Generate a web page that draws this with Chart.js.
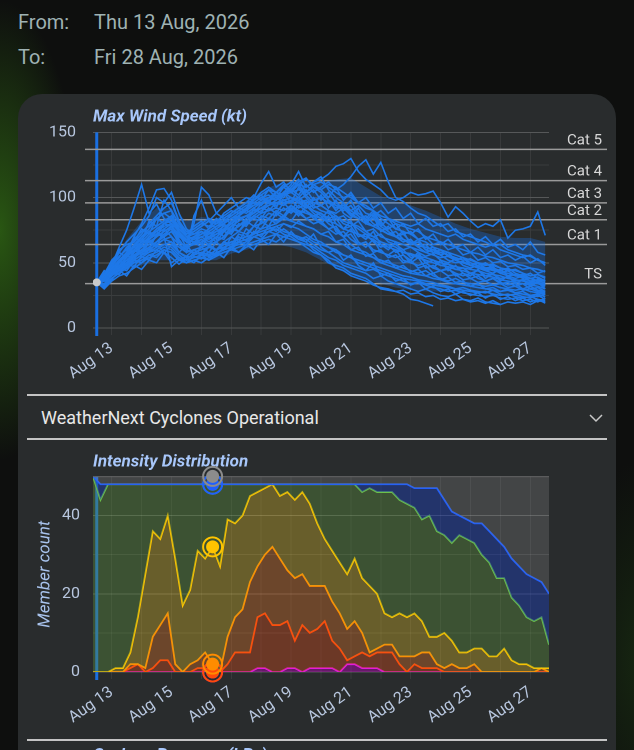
<!DOCTYPE html>
<html><head><meta charset="utf-8">
<script src="https://cdn.jsdelivr.net/npm/chart.js@4.4.1/dist/chart.umd.min.js"></script>
<style>
html,body{margin:0;padding:0;width:634px;height:750px;overflow:hidden;font-family:Roboto,sans-serif;}
body{position:relative;background:
 radial-gradient(ellipse 80px 230px at 0px 230px, rgba(50,110,20,0.75), rgba(0,0,0,0) 100%),
 radial-gradient(ellipse 70px 200px at 640px 660px, rgba(30,60,20,0.5), rgba(0,0,0,0) 100%),
 #0e0f0e;}
.hl{position:absolute;left:18px;font-size:20px;line-height:22px;color:#9fb2b3;}
.hv{position:absolute;left:94px;font-size:20px;line-height:22px;color:#9fb2b3;}
.card{position:absolute;left:18px;top:94px;width:598px;height:720px;border-radius:24px;background:#292c2d;}
.sep{position:absolute;left:27px;width:580px;height:1.5px;background:#c4c4c4;}
.dd{position:absolute;left:41px;top:407px;font-size:18px;line-height:22px;color:#e8e8e8;}
.next{position:absolute;left:93px;top:744px;font-size:17px;font-weight:bold;font-style:italic;color:#a8c7fa;}
canvas{position:absolute;left:0;}
</style></head>
<body>
<div class="hl" style="top:11px">From:</div><div class="hv" style="top:11px">Thu 13 Aug, 2026</div>
<div class="hl" style="top:46px">To:</div><div class="hv" style="top:46px">Fri 28 Aug, 2026</div>
<div class="card"></div>
<canvas id="wind" width="634" height="292" style="top:100px"></canvas>
<div class="sep" style="top:394px"></div>
<div class="dd">WeatherNext Cyclones Operational</div>
<svg style="position:absolute;left:586px;top:411px" width="20" height="14"><polyline points="4,4 10,10 16,4" fill="none" stroke="#c8c8c8" stroke-width="1.5"/></svg>
<div class="sep" style="top:438px"></div>
<canvas id="dist" width="634" height="294" style="top:446px"></canvas>
<div class="sep" style="top:739px"></div>
<div class="next">Cyclone Pressure (hPa)</div>
<script>
// ---------- axis categories ----------
const dayHours = [0,24,48,72,96,120,144,168,192,216,240,264,288,312,336];
const dayLabels = ['Aug 13','Aug 14','Aug 15','Aug 16','Aug 17','Aug 18','Aug 19','Aug 20','Aug 21','Aug 22','Aug 23','Aug 24','Aug 25','Aug 26','Aug 27'];
const nowHour = -12;

// ---------- Max wind speed (kt) ----------
const windHours = [-12,-6,0,6,12,18,24,30,36,42,48,54,60,66,72,78,84,90,96,102,108,114,120,126,132,138,144,150,156,162,168,174,180,186,192,198,204,210,216,222,228,234,240,246,252,258,264,270,276,282,288,294,300,306,312,318,324,330,336,342,348];
const bandHours = [-12,0,12,24,36,48,60,72,84,96,108,120,132,144,156,168,180,192,204,216,228,240,252,264,276,288,300,312,324,336,348];
const bandUpper = [35,52,68,82,92,92,82,85,84,90,98,105,110,112,112,112,114,115,108,101,97,94,90,85,80,76,73,70,69,69,66];
const bandLower = [35,38,44,48,52,52,50,52,52,57,60,63,64,62,58,52,46,40,37,34,31,29,28,28,27,27,26,25,24,24,24];
const catValues = [137,113,96,83,64,34];
const catLabels = ['Cat 5','Cat 4','Cat 3','Cat 2','Cat 1','TS'];
const initWind = 35;

const member01 = [35,40,48,62,75,92,110,88,95,84,80,66,62,70,74,68,72,75,80,78,84,88,92,90,96,94,98,92,95,90,88,84,86,80,78,82,74,70,72,66,64,60,62,58,55,57,52,50,53,48,46,48,44,42,45,40,38,40,36,35,33];
const member02 = [35,33,42,50,58,70,80,92,106,107,98,82,70,65,68,64,60,66,70,74,72,78,80,84,82,86,90,88,84,86,80,76,72,74,68,64,66,60,58,56,54,56,50,48,50,46,44,45,42,40,42,38,36,38,35,33,34,30,32,29,28];
const member03 = [35,38,44,46,52,55,60,64,70,74,78,70,66,80,108,102,88,84,80,86,90,88,95,98,100,104,100,96,98,92,94,90,88,92,86,84,80,78,75,72,70,68,66,63,62,60,58,56,54,52,53,50,48,49,46,44,45,42,40,41,38];
const member04 = [35,36,40,45,50,54,58,62,66,70,74,72,66,64,66,70,74,76,82,86,92,100,111,120,108,112,104,100,106,98,100,96,92,94,88,84,86,80,76,72,74,68,64,66,60,58,60,55,52,54,50,48,50,46,44,46,42,40,42,38,36];
const member05 = [35,37,42,44,48,52,56,60,64,68,66,62,58,60,62,64,66,70,74,78,82,86,90,94,98,104,110,120,108,112,116,106,100,96,90,86,82,84,78,74,70,66,68,62,58,60,56,52,50,51,48,46,44,45,42,40,41,38,36,37,34];
const member06 = [35,40,46,50,56,60,66,68,74,80,78,70,68,70,74,72,76,80,84,86,90,94,96,100,104,102,106,110,108,112,114,118,124,126,130,120,114,110,106,100,98,100,104,102,103,105,96,85,93,88,82,77,80,78,83,69,75,76,78,89,71];
const member07 = [35,39,45,52,58,62,70,74,78,82,86,76,70,72,76,74,78,82,86,90,94,96,100,102,98,104,106,102,110,104,108,112,106,110,116,124,129,118,127,112,100,97,92,88,86,82,78,80,74,72,70,68,66,63,64,60,58,56,55,52,50];
const member08 = [35,30,36,40,42,46,50,54,56,60,58,52,50,52,54,52,55,58,60,62,64,66,68,70,72,70,68,66,62,58,56,50,48,46,42,40,38,34,30,29,28,26,22,21,19,17,null,null,null,null,null,null,null,null,null,null,null,null,null,null,null];
const member09 = [35,34,38,42,46,50,54,58,62,64,62,56,52,54,56,55,58,60,62,66,68,70,72,74,76,72,70,66,64,62,58,54,52,48,46,44,42,38,40,36,34,32,30,28,30,27,25,24,26,22,21,23,20,19,18,null,null,null,null,null,null];
const member10 = [35,42,44,48,52,56,58,62,66,70,47,52,55,54,56,58,57,60,62,64,66,70,72,74,78,80,78,76,72,68,66,62,60,56,54,52,50,48,46,44,42,40,39,37,36,35,33,32,30,31,29,28,27,29,26,25,26,24,23,25,22];
const member11 = [35,38,50,60,64,66,72,80,86,92,96,82,74,76,80,78,82,86,90,88,92,96,94,100,102,98,100,96,92,94,90,88,84,86,80,78,74,76,70,68,66,64,62,60,58,56,54,55,52,50,48,47,46,44,43,42,40,39,38,36,35];
const member12 = [35,36,40,44,50,54,58,60,64,68,70,64,60,58,60,62,60,64,66,68,70,72,76,78,80,84,82,80,78,76,72,70,66,64,60,58,56,54,50,48,46,44,42,41,40,38,37,35,34,33,32,31,30,29,28,29,27,26,25,24,26];
const member13 = [35,40,47,55,60,68,74,78,84,88,90,80,72,74,78,82,80,84,88,92,96,98,102,106,104,108,112,110,114,110,112,108,104,100,102,96,92,90,86,84,80,78,76,74,70,68,66,64,62,60,58,57,55,54,52,50,49,48,46,45,43];
const member14 = [35,32,38,42,48,50,52,56,58,62,60,54,50,52,50,54,56,58,60,58,62,64,66,68,66,70,72,68,70,66,64,62,58,56,54,50,48,46,44,42,40,38,37,36,34,33,32,31,30,29,28,27,28,26,25,26,24,23,24,22,21];
const member15 = [35,38,42,48,54,60,64,70,76,80,84,74,66,68,70,66,70,74,78,82,86,88,92,94,96,98,100,98,102,96,94,90,86,82,80,76,72,70,66,64,62,58,56,54,52,50,48,47,45,44,42,41,40,39,37,36,35,34,33,32,30];
const member16 = [35,41,52,58,66,72,78,86,100,96,104,88,76,72,74,70,72,76,80,84,86,84,88,90,92,90,94,90,88,86,84,82,80,76,74,72,70,68,64,62,60,58,57,55,54,52,50,49,47,46,45,44,42,41,40,38,37,36,35,34,32];
const member17 = [35,37,43,47,52,58,62,66,70,74,78,72,68,70,72,76,80,82,86,90,88,92,96,98,100,96,98,100,96,98,100,96,94,92,90,94,88,86,90,84,82,80,78,80,76,74,72,70,72,68,66,64,62,64,60,58,56,54,56,52,50];
const member18 = [35,40,42,46,50,52,56,58,60,64,66,58,54,56,58,56,60,62,64,66,68,72,74,76,78,74,72,70,68,64,60,58,54,50,48,46,44,45,42,40,38,36,34,35,33,31,30,28,29,27,26,25,24,25,23,22,23,21,22,20,23];
const member19 = [35,39,46,52,56,62,66,72,74,78,80,74,68,66,70,72,74,78,80,84,86,90,92,96,94,98,96,100,94,90,86,80,76,70,64,60,58,54,52,50,48,46,44,42,44,40,38,36,38,35,34,33,32,33,31,30,29,30,28,27,26];
const member20 = [35,38,44,50,56,58,64,68,72,76,80,76,70,68,72,74,78,80,84,88,92,94,98,100,98,102,104,106,104,108,106,110,108,104,100,96,94,90,84,80,76,74,72,68,66,62,60,58,56,54,52,50,49,48,46,45,44,42,40,41,39];
const member21 = [35,44,40,52,48,60,56,68,62,76,70,58,64,56,62,58,66,60,70,66,76,72,82,78,88,84,92,86,94,88,84,90,80,76,82,72,68,74,64,60,66,56,52,58,50,46,52,44,48,42,40,45,38,42,36,40,34,37,32,35,30];
const member22 = [35,41,47,58,54,70,66,82,78,98,90,72,62,70,64,74,68,80,74,86,80,92,88,98,92,104,96,108,100,94,102,92,98,88,84,92,80,86,74,78,70,74,64,68,60,62,56,58,52,54,48,50,46,47,42,44,40,41,38,36,37];
const member23 = [35,31,37,44,40,48,45,52,50,58,54,49,53,50,56,52,58,54,62,58,64,60,68,64,72,66,74,68,66,72,62,58,60,52,56,48,44,50,40,42,36,38,33,35,30,32,28,30,26,28,25,27,23,26,22,24,21,23,20,22,19];
const member24 = [35,38,46,44,56,52,64,60,72,70,78,68,60,66,62,70,66,74,72,80,78,86,84,92,88,96,90,98,92,100,94,98,90,96,86,92,82,88,78,84,76,80,72,76,68,72,64,68,62,64,58,62,56,60,54,56,52,55,50,53,48];
const member25 = [35,36,42,48,46,56,60,58,66,72,76,64,58,86,98,82,76,70,78,74,82,78,86,84,90,86,94,88,90,84,80,86,74,70,76,66,62,68,58,56,60,52,50,54,46,48,44,46,40,42,38,40,36,38,34,35,32,34,30,31,28];
const member26 = [35,40,44,50,56,64,70,76,84,80,86,78,72,78,82,76,84,80,88,92,90,98,102,96,104,100,108,114,104,110,106,100,108,98,104,96,100,92,96,88,92,84,88,80,84,78,80,74,76,70,72,66,70,64,68,62,64,60,66,58,56];
const member27 = [35,39,43,41,49,47,55,52,60,57,64,58,55,60,57,63,59,66,62,70,67,74,70,78,74,80,77,82,78,76,72,74,66,68,60,62,55,57,50,52,46,48,43,45,40,42,37,39,35,36,32,34,30,31,28,30,27,28,25,26,24];
const member28 = [35,38,45,51,55,63,68,74,70,80,82,76,72,76,80,84,80,88,92,96,100,98,104,108,104,110,106,112,115,108,104,98,94,90,94,86,82,78,82,74,70,72,66,62,64,58,56,58,52,50,48,50,45,46,42,44,40,41,38,39,36];
const member29 = [35,37,41,46,50,58,62,66,64,58,50,54,52,58,56,62,60,66,64,72,70,78,76,84,80,86,82,90,84,80,82,76,78,70,72,64,66,58,60,54,56,50,52,46,48,42,44,40,41,37,38,35,36,33,34,31,32,29,30,28,27];
const member30 = [35,42,48,54,62,66,76,72,84,88,84,76,70,74,78,82,88,94,100,92,96,102,98,106,100,108,104,110,102,106,98,104,96,92,98,88,84,90,80,76,80,72,74,68,70,64,66,60,62,56,58,52,54,50,51,47,48,45,46,42,44];
const member31 = [35,34,40,46,44,52,50,56,54,60,58,52,50,55,53,58,56,62,60,66,64,70,68,74,72,76,72,70,66,60,56,52,46,44,40,38,36,33,31,30,28,29,26,27,24,25,22,23,21,22,20,21,19,21,18,20,19,20,18,21,20];
const member32 = [35,40,45,50,58,62,58,70,74,70,74,66,62,64,68,64,70,68,76,74,80,84,82,88,86,92,88,94,90,86,88,82,84,76,78,70,72,66,62,64,58,60,54,56,50,52,48,49,45,46,42,44,40,41,38,39,36,37,34,35,33];
const ensemble = [member01,member02,member03,member04,member05,member06,member07,member08,member09,member10,member11,member12,member13,member14,member15,member16,member17,member18,member19,member20,member21,member22,member23,member24,member25,member26,member27,member28,member29,member30,member31,member32];

// ---------- Intensity distribution (member counts) ----------
const distHours = [-15,-9,-3,3,9,15,21,27,33,39,45,51,57,63,69,75,81,87,93,99,105,111,117,123,129,135,141,147,153,159,165,171,177,183,189,195,201,207,213,219,225,231,237,243,249,255,261,267,273,279,285,291,297,303,309,315,321,327,333,339,345,351];
const countAll = [50,50,50,50,50,50,50,50,50,50,50,50,50,50,50,50,50,50,50,50,50,50,50,50,50,50,50,50,50,50,50,50,50,50,50,50,50,50,50,50,50,50,50,50,50,50,50,50,50,50,50,50,50,50,50,50,50,50,50,50,50,50];
const countTD = [50,48,48,48,48,48,48,48,48,48,48,48,48,48,48,48,48,48,48,48,48,48,48,48,48,48,48,48,48,48,48,48,48,48,48,48,48,48,48,48,48,48,48,47,47,47,47,44,41,40,39,38,38,36,34,32,29,27,25,24,23,20];
const countTS = [50,44,48,48,48,48,48,48,48,48,48,48,48,48,48,48,48,48,48,48,48,48,48,48,48,48,48,48,48,48,48,48,48,48,48,48,46,47,46,46,46,44,43,42,39,40,36,35,33,35,34,33,30,28,24,24,19,17,14,13,14,7];
const countCat1 = [0,0,0,1,1,5,14,25,36,34,40,29,17,21,31,29,32,27,39,38,40,45,46,47,48,45,46,44,46,43,38,34,31,28,25,29,24,22,20,15,14,15,14,15,13,9,9,10,8,5,5,6,6,4,4,6,3,2,2,1,1,1];
const countCat2 = [0,0,0,0,0,2,2,1,9,12,15,2,0,2,3,5,2,0,9,14,16,23,27,30,32,29,26,24,25,22,22,22,18,15,11,13,10,5,6,7,7,4,4,4,5,5,2,1,2,1,1,2,0,0,0,0,0,0,0,0,1,0];
const countCat3 = [0,0,0,0,0,1,2,0,1,3,3,0,0,0,1,1,0,0,2,5,5,5,14,15,12,12,13,8,12,10,11,13,8,6,3,4,5,4,5,5,5,2,0,2,1,1,1,0,0,0,0,0,0,0,0,0,0,0,0,0,0,0];
const countCat4 = [0,0,0,0,0,0,0,0,0,0,0,0,0,0,0,0,0,0,0,0,0,0,1,1,0,0,1,1,0,1,1,1,1,0,2,2,1,1,1,0,0,0,0,0,0,0,0,0,0,0,0,0,0,0,0,0,0,0,0,0,0,0];
const distNames = ['All members','Tropical depression+','Tropical storm+','Category 1+','Category 2+','Category 3+','Category 4+'];
const distLines = ['#6f6f6f','#1f5fff','#6cc04a','#ffc400','#ff8c00','#ff4a0a','#e619e6'];
const distFills = ['rgba(128,128,128,0.3)','rgba(30,60,170,0.5)','rgba(90,140,60,0.4)','rgba(200,170,40,0.4)','rgba(210,110,40,0.4)','rgba(190,70,30,0.45)','rgba(200,0,200,0.4)'];
const markerHour = 81;

// ---------- shared ----------
Chart.defaults.font.family = 'Roboto';
Chart.defaults.color = '#b8c7df';
const tickColor = '#b8c7df';
const pts = (xs, ys) => xs.map((h, i) => ({x: h, y: ys[i]}));

const xAxis = (h) => ({
  type: 'linear', min: -15, max: 351,
  afterBuildTicks: s => { s.ticks = dayHours.map(v => ({value: v})); },
  afterFit: s => { s.height = h; },
  border: {display: false},
  grid: {color: 'rgba(255,255,255,0.07)', drawTicks: true, tickLength: 7, tickColor: 'rgba(255,255,255,0.07)'},
  ticks: {autoSkip: false, minRotation: 35, maxRotation: 35, padding: 4, color: tickColor, font: {size: 16},
    callback: (v, i) => (i % 2 === 0 ? dayLabels[i] : '')}
});

const decor = {
  id: 'decor',
  beforeDatasetsDraw(chart) {
    const {ctx, chartArea: a, scales: {x, y}} = chart;
    ctx.save();
    const nx = x.getPixelForValue(nowHour);
    ctx.strokeStyle = '#1a6fe0'; ctx.lineWidth = 3;
    ctx.beginPath(); ctx.moveTo(nx, a.top); ctx.lineTo(nx, a.bottom + 8); ctx.stroke();
    if (chart.canvas.id === 'wind') {
      ctx.strokeStyle = '#9a9a9a'; ctx.lineWidth = 1.5;
      ctx.fillStyle = '#d8d8d8'; ctx.font = '15px Roboto'; ctx.textAlign = 'right'; ctx.textBaseline = 'alphabetic';
      catValues.forEach((v, k) => {
        const py = y.getPixelForValue(v);
        ctx.beginPath(); ctx.moveTo(a.left - 8, py); ctx.lineTo(607, py); ctx.stroke();
        ctx.fillText(catLabels[k], 602, py - 5);
      });
    }
    ctx.restore();
  },
  afterDatasetsDraw(chart) {
    if (chart.canvas.id !== 'dist') return;
    const {ctx} = chart;
    const idx = distHours.indexOf(markerHour);
    ctx.save();
    for (let di = distLines.length - 1; di >= 0; di--) {
      const el = chart.getDatasetMeta(di).data[idx];
      const c = di === 0 ? '#8c8c8c' : distLines[di];
      ctx.fillStyle = c; ctx.strokeStyle = c; ctx.lineWidth = 2;
      ctx.beginPath(); ctx.arc(el.x, el.y, 6.5, 0, Math.PI * 2); ctx.fill();
      ctx.beginPath(); ctx.arc(el.x, el.y, 9.5, 0, Math.PI * 2); ctx.stroke();
    }
    ctx.restore();
  }
};

// ---------- wind chart ----------
const windSets = [];
windSets.push({label: 'Init', data: [{x: nowHour, y: initWind}], showLine: false, pointRadius: 4, pointBackgroundColor: '#c9c9c9', pointBorderWidth: 0, order: -1});
ensemble.forEach((m, k) => windSets.push({label: 'Member ' + (k + 1), data: pts(windHours, m), borderColor: '#1e78e8', borderWidth: 1.6, pointRadius: 0, tension: 0, spanGaps: false, order: 0}));
windSets.push({label: 'Upper', data: pts(bandHours, bandUpper), borderWidth: 0, pointRadius: 0, fill: '+1', backgroundColor: 'rgba(26,115,232,0.32)', order: 10});
windSets.push({label: 'Lower', data: pts(bandHours, bandLower), borderWidth: 0, pointRadius: 0, fill: false, order: 11});

new Chart(document.getElementById('wind'), {
  type: 'line',
  data: {datasets: windSets},
  plugins: [decor],
  options: {
    responsive: false, animation: false, devicePixelRatio: 2,
    layout: {padding: {top: 0, left: 0, right: 85, bottom: 0}},
    plugins: {
      legend: {display: false}, tooltip: {enabled: false},
      title: {display: true, text: 'Max Wind Speed (kt)', align: 'start', fullSize: false, color: '#a8c7fa',
        font: {size: 17, weight: 'bold', style: 'italic'}, padding: {top: 7, bottom: 5}}
    },
    scales: {
      x: xAxis(64),
      y: {min: 0, max: 150, afterFit: s => { s.width = 93; }, border: {display: false},
        grid: {drawTicks: false, color: c => (c.tick && c.tick.value % 50 === 0 ? '#565859' : '#3a3d3e')},
        ticks: {stepSize: 25, padding: 17, color: tickColor, font: {size: 16}, callback: v => (v % 50 === 0 ? v : '')}}
    }
  }
});

// ---------- distribution chart ----------
const distSeries = [countAll, countTD, countTS, countCat1, countCat2, countCat3, countCat4];
const distSets = distSeries.map((s, k) => ({
  label: distNames[k], data: pts(distHours, s), borderColor: distLines[k], borderWidth: k === 0 ? 1.5 : 1.8,
  backgroundColor: distFills[k], fill: k === distSeries.length - 1 ? 'origin' : '+1', pointRadius: 0, tension: 0
}));

new Chart(document.getElementById('dist'), {
  type: 'line',
  data: {datasets: distSets},
  plugins: [decor],
  options: {
    responsive: false, animation: false, devicePixelRatio: 2,
    layout: {padding: {top: 0, left: 0, right: 85, bottom: 0}},
    plugins: {
      legend: {display: false}, tooltip: {enabled: false},
      title: {display: true, text: 'Intensity Distribution', align: 'start', fullSize: false, color: '#a8c7fa',
        font: {size: 17, weight: 'bold', style: 'italic'}, padding: {top: 6, bottom: 4}}
    },
    scales: {
      x: xAxis(68),
      y: {min: 0, max: 50, afterFit: s => { s.width = 93; }, border: {display: false},
        grid: {drawTicks: false, color: c => (c.tick && c.tick.value % 20 === 0 ? 'rgba(255,255,255,0.22)' : 'rgba(255,255,255,0.1)')},
        title: {display: true, text: 'Member count', color: '#a9c4ee', font: {size: 17, style: 'italic'}, padding: {top: 35, bottom: 0}},
        ticks: {stepSize: 10, padding: 13, color: tickColor, font: {size: 16}, callback: v => (v % 20 === 0 ? v : '')}}
    }
  }
});
</script>
</body></html>
